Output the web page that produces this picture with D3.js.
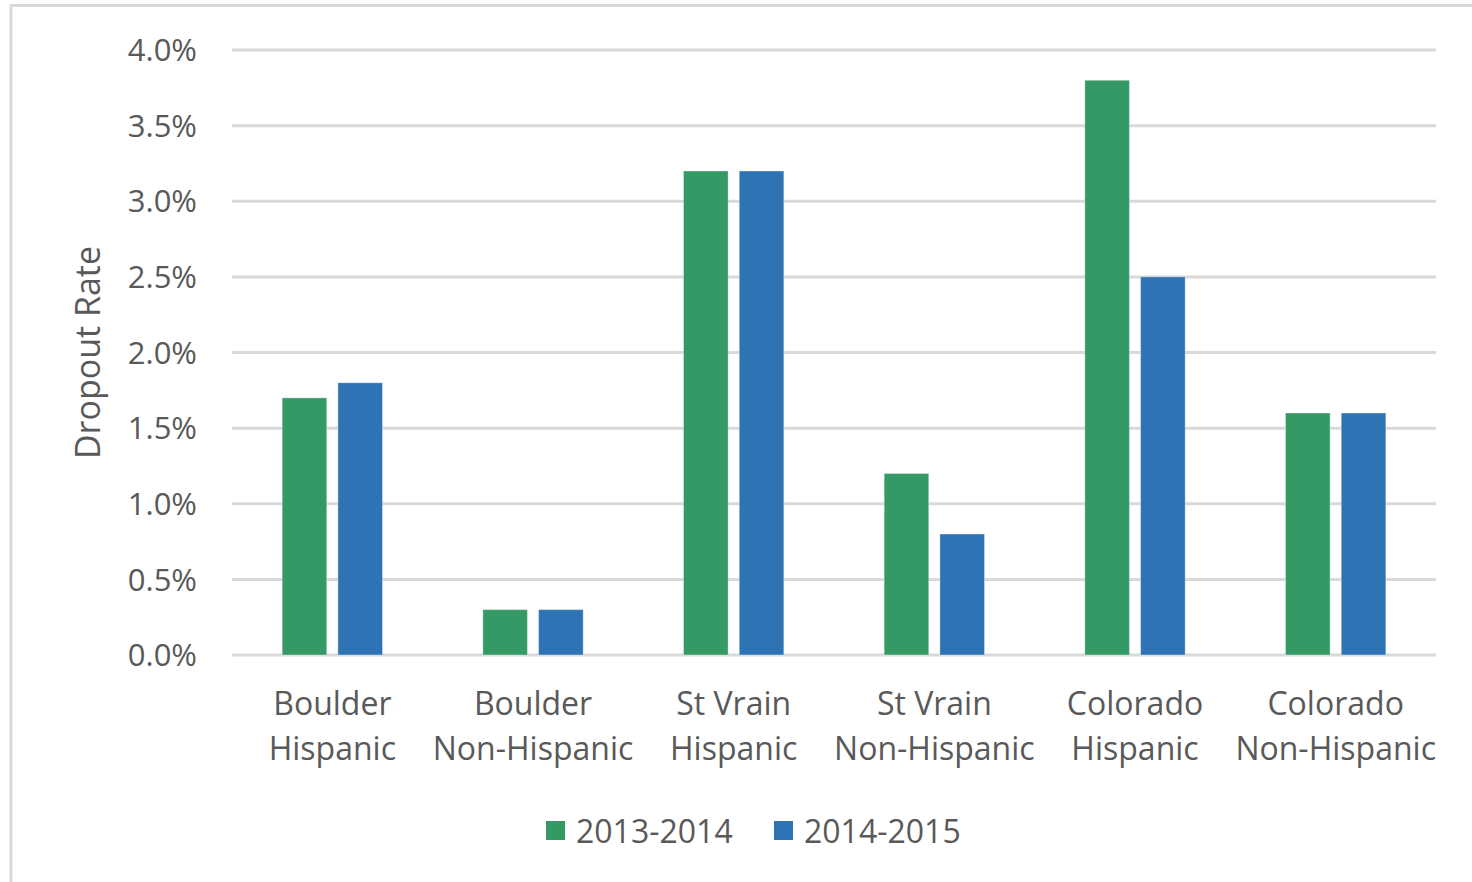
<!DOCTYPE html>
<html>
<head>
<meta charset="utf-8">
<script src="https://cdn.jsdelivr.net/npm/d3@7"></script>
<style>
  body { margin: 0; background: #fff; }
  svg { display: block; }
</style>
</head>
<body>
<svg id="chart"></svg>
<script>
// data
var categories = [["Boulder", "Hispanic"], ["Boulder", "Non-Hispanic"], ["St Vrain", "Hispanic"],
                  ["St Vrain", "Non-Hispanic"], ["Colorado", "Hispanic"], ["Colorado", "Non-Hispanic"]];
var seriesNames = ["2013-2014", "2014-2015"];
var values2013 = [1.7, 0.3, 3.2, 1.2, 3.8, 1.6];
var values2014 = [1.8, 0.3, 3.2, 0.8, 2.5, 1.6];
var yTicks = [0, 0.5, 1.0, 1.5, 2.0, 2.5, 3.0, 3.5, 4.0];
var colors = ["#359966", "#2e74b5"];

var W = 1472, H = 882;
var margin = {top: 50, right: 36, bottom: 227, left: 232},
    width = W - margin.left - margin.right,
    height = H - margin.top - margin.bottom;

var font = "'Open Sans', 'Noto Sans', sans-serif";
var textColor = "#595959";

var root = d3.select("#chart").attr("width", W).attr("height", H);

// outer frame
root.append("line").attr("x1", 11).attr("x2", W).attr("y1", 5.5).attr("y2", 5.5)
  .attr("stroke", "#d9d9d9").attr("stroke-width", 3);
root.append("line").attr("x1", 11).attr("x2", 11).attr("y1", 4).attr("y2", H)
  .attr("stroke", "#d9d9d9").attr("stroke-width", 3);

var svg = root.append("g")
  .attr("transform", "translate(" + margin.left + "," + margin.top + ")");

var rows = categories.map(function(c, i) {
  return {key: c.join(" "), label: c, vals: [values2013[i], values2014[i]]};
});

// X scales
var x0 = d3.scaleBand()
  .domain(rows.map(function(d) { return d.key; }))
  .range([0, width]);

var x1 = d3.scaleBand()
  .domain(seriesNames)
  .range([x0.bandwidth() * 0.25, x0.bandwidth() * 0.75])
  .paddingInner(0.2);

// Y
var y = d3.scaleLinear().domain([0, 4]).range([height, 0]);

// gridlines
svg.append("g")
  .selectAll("line")
  .data(yTicks)
  .enter()
  .append("line")
  .attr("x1", 0)
  .attr("x2", width)
  .attr("y1", function(d) { return y(d); })
  .attr("y2", function(d) { return y(d); })
  .attr("stroke", "#d9d9d9")
  .attr("stroke-width", 3);

// y tick labels
svg.append("g")
  .selectAll("text")
  .data(yTicks)
  .enter()
  .append("text")
  .attr("x", -35)
  .attr("y", function(d) { return y(d); })
  .attr("dy", "0.36em")
  .attr("text-anchor", "end")
  .attr("font-family", font)
  .attr("font-size", "31px")
  .attr("fill", textColor)
  .text(function(d) { return d.toFixed(1) + "%"; });

// bars
var groups = svg.selectAll(".grp")
  .data(rows)
  .enter()
  .append("g")
  .attr("class", "grp")
  .attr("transform", function(d) { return "translate(" + x0(d.key) + ",0)"; });

groups.selectAll("rect")
  .data(function(d) { return d.vals.map(function(v, i) { return {s: seriesNames[i], v: v, i: i}; }); })
  .enter()
  .append("rect")
  .attr("x", function(d) { return x1(d.s); })
  .attr("y", function(d) { return y(d.v); })
  .attr("width", x1.bandwidth())
  .attr("height", function(d) { return y(0) - y(d.v); })
  .attr("fill", function(d) { return colors[d.i]; })
  .attr("stroke", "rgba(255,255,255,0.35)")
  .attr("stroke-width", 1);

// category labels
var catLabels = svg.append("g")
  .selectAll("text")
  .data(rows)
  .enter()
  .append("text")
  .attr("text-anchor", "middle")
  .attr("font-family", font)
  .attr("font-size", "32px")
  .attr("fill", textColor);
catLabels.selectAll("tspan")
  .data(function(d) { return d.label.map(function(l) { return {l: l, key: d.key}; }); })
  .enter()
  .append("tspan")
  .attr("x", function(d) { return x0(d.key) + x0.bandwidth() / 2; })
  .attr("y", function(d, i) { return height + 60 + i * 45; })
  .text(function(d) { return d.l; });

// y axis title
svg.append("text")
  .attr("transform", "rotate(-90)")
  .attr("x", -(y(0) + y(4)) / 2)
  .attr("y", -margin.left + 100)
  .attr("text-anchor", "middle")
  .attr("font-family", font)
  .attr("font-size", "34px")
  .attr("fill", textColor)
  .text("Dropout Rate");

// legend
var legend = root.append("g");
var legendX = [546, 774];
seriesNames.forEach(function(s, i) {
  legend.append("rect")
    .attr("x", legendX[i]).attr("y", 821)
    .attr("width", 19).attr("height", 19)
    .attr("fill", colors[i]);
  legend.append("text")
    .attr("x", legendX[i] + 30).attr("y", 831)
    .attr("dy", "0.36em")
    .attr("font-family", font)
    .attr("font-size", "32px")
    .attr("fill", textColor)
    .text(s);
});
</script>
</body>
</html>
